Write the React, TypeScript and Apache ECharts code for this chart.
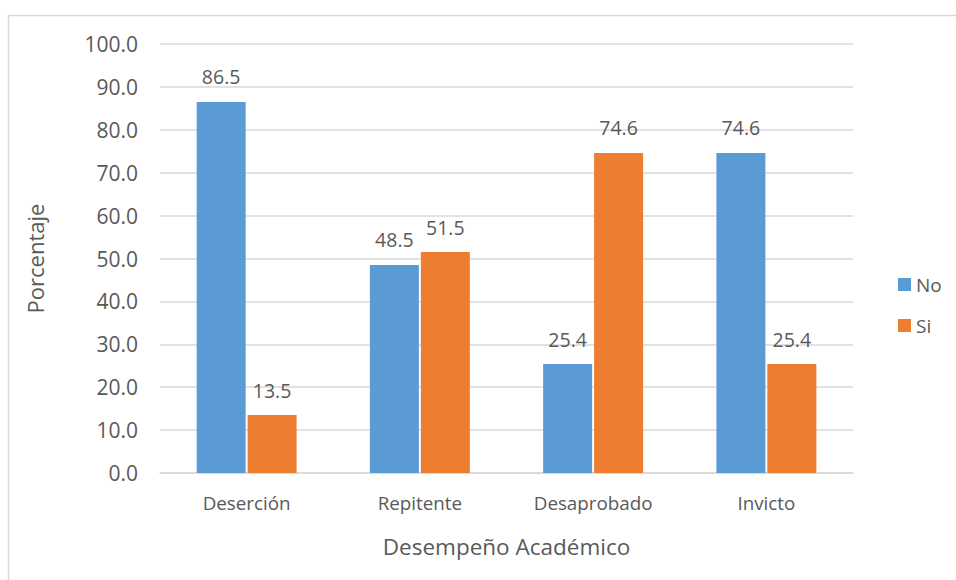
import React, { useEffect, useRef } from "react";
import * as echarts from "echarts";

const categories = ["Deserción", "Repitente", "Desaprobado", "Invicto"];
const seriesNames = ["No", "Si"];
const noValues = [86.5, 48.5, 25.4, 74.6];
const siValues = [13.5, 51.5, 74.6, 25.4];
const yAxisTitle = "Porcentaje";
const xAxisTitle = "Desempeño Académico";

const FONT = "Open Sans";
const TXT = "#595959";

export default function App() {
  const ref = useRef<HTMLDivElement>(null);
  useEffect(() => {
    if (!ref.current) return;
    const chart = echarts.init(ref.current, undefined, { renderer: "svg" });
    const label = {
      show: true,
      position: "top",
      distance: 15,
      color: TXT,
      fontFamily: FONT,
      fontSize: 19.5,
      formatter: (p: any) => Number(p.value).toFixed(1),
    };
    chart.setOption({
      animation: false,
      textStyle: { fontFamily: FONT, color: TXT },
      graphic: [
        {
          type: "rect",
          shape: { x: 8.5, y: 15.5, width: 1200, height: 1200 },
          style: { fill: "none", stroke: "#d9d9d9", lineWidth: 1.5 },
          silent: true,
        },
      ],
      grid: { left: 160, right: 103, top: 44, bottom: 107 },
      legend: {
        orient: "vertical",
        left: 893,
        top: 270,
        itemWidth: 13,
        itemHeight: 13,
        itemGap: 22,
        icon: "rect",
        textStyle: { color: TXT, fontFamily: FONT, fontSize: 19 },
        data: seriesNames,
      },
      xAxis: {
        type: "category",
        data: categories,
        name: xAxisTitle,
        nameLocation: "middle",
        nameGap: 62,
        nameTextStyle: { color: TXT, fontFamily: FONT, fontSize: 22.5 },
        axisLine: { lineStyle: { color: "#d9d9d9", width: 1.5 } },
        axisTick: { show: false },
        axisLabel: { color: TXT, fontFamily: FONT, fontSize: 18.8, margin: 20 },
      },
      yAxis: {
        type: "value",
        min: 0,
        max: 100,
        interval: 10,
        name: yAxisTitle,
        nameLocation: "middle",
        nameGap: 114,
        nameTextStyle: { color: TXT, fontFamily: FONT, fontSize: 22 },
        axisLine: { show: false },
        axisTick: { show: false },
        splitLine: { lineStyle: { color: "#d9d9d9", width: 1.5 } },
        axisLabel: {
          color: TXT,
          fontFamily: FONT,
          fontSize: 21,
          margin: 22,
          formatter: (v: number) => v.toFixed(1),
        },
      },
      series: [
        {
          name: seriesNames[0],
          type: "bar",
          data: noValues,
          barWidth: 49,
          barGap: "4%",
          itemStyle: { color: "#5b9bd5" },
          label,
        },
        {
          name: seriesNames[1],
          type: "bar",
          data: siValues,
          barWidth: 49,
          barGap: "4%",
          itemStyle: { color: "#ed7d31" },
          label,
        },
      ],
    });
    return () => chart.dispose();
  }, []);
  return (
    <div
      ref={ref}
      style={{ position: "fixed", left: 0, top: 0, width: 956, height: 580, background: "#fff" }}
    />
  );
}
